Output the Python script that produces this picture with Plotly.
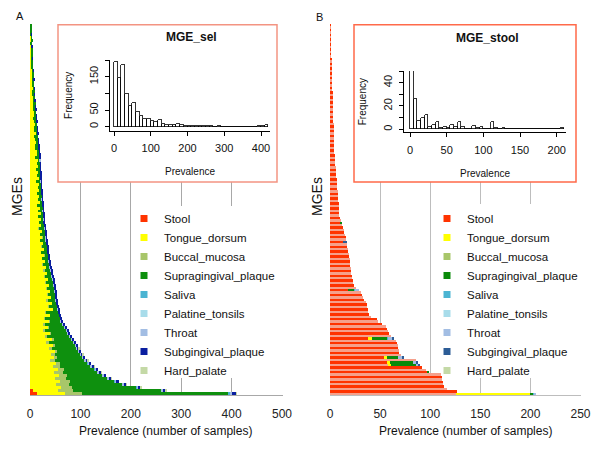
import plotly.graph_objects as go

FONT = "Liberation Sans, Arial, sans-serif"
W, H = 600, 450
PAGE_OFF = 8  # the page body margin shifts the figure by 8 px

# ---------------- data ----------------
sites = ["Stool", "Tongue_dorsum", "Buccal_mucosa", "Supragingival_plaque", "Saliva",
         "Palatine_tonsils", "Throat", "Subgingival_plaque", "Hard_palate"]

# Panel A: MGE_sel, one row per (group of) MGE, row 0 = top (lowest prevalence)
a_tongue = [1, 0, 1, 1, 2, 2, 1, 2, 3, 2, 2, 3, 3, 3, 3, 4, 3, 3, 5, 4, 4, 6, 4, 4, 5,
            6, 5, 5, 6, 7, 9, 6, 7, 9, 8, 7, 11, 8, 9, 12, 9, 10, 14,
            14, 10, 15, 13, 16, 11, 16, 14, 17, 12, 17, 15, 18, 13, 18, 15, 19, 14, 20, 16, 21, 15, 22, 18,
            22, 17, 24, 20, 25, 19, 26, 22, 27, 21, 28, 24,
            30, 25, 31, 27, 34, 28, 36, 30,
            38, 32, 40, 35, 42, 33, 44, 36, 45,
            30, 40, 28, 38, 27,
            36, 26, 40, 30,
            44, 32, 46,
            38, 50, 42,
            48, 40, 52, 45, 55, 48, 58, 50, 60, 52, 62, 50, 55]
a_supra = [1, 2, 2, 1, 1, 2, 3, 1, 2, 3, 3, 1, 3, 3, 3, 2, 4, 4, 2, 4, 4, 2, 5, 4, 5,
           3, 6, 5, 5, 5, 3, 6, 6, 5, 6, 7, 4, 8, 7, 4, 8, 7, 4,
           5, 9, 4, 7, 4, 9, 5, 6, 4, 9, 5, 7, 5, 9, 6, 8, 6, 10, 6, 9, 6, 11, 5, 9,
           6, 11, 6, 11, 5, 12, 6, 11, 7, 13, 7, 12,
           7, 12, 8, 12, 8, 14, 9, 14,
           9, 14, 9, 14, 8, 16, 8, 16, 10,
           24, 18, 30, 22, 35,
           31, 43, 33, 44,
           35, 49, 40,
           48, 43, 50,
           50, 59, 55, 62, 61, 68, 69, 81, 88, 105, 128, 174, 290]
a_subg = [0, 0, 0, 1, 0, 0, 0, 1, 0, 0, 0, 1, 0, 0, 0, 1, 0, 0, 1, 0, 0, 1, 0, 1, 0,
          1, 0, 1, 1, 0, 1, 1, 1, 0, 1, 1, 1, 0, 1, 1, 1, 1, 1,
          1, 1, 0, 1, 1, 1, 1, 1, 1, 1, 1, 1, 1, 1, 1, 1, 1, 1, 1, 1, 1, 1, 1, 2,
          1, 1, 1, 2, 1, 2, 2, 1, 2, 2, 1, 2,
          2, 2, 2, 2, 2, 2, 2, 2,
          2, 2, 2, 2, 3, 2, 3, 3, 2,
          3, 3, 3, 3, 3,
          3, 3, 3, 3,
          3, 3, 3,
          3, 3, 3,
          3, 4, 4, 4, 4, 4, 4, 5, 5, 5, 5, 5, 9]
a_throat = [0] * 43 + [
          0, 0, 1, 0, 0, 0, 0, 1, 0, 1, 0, 0, 0, 1, 0, 1, 0, 1, 0, 1, 0, 1, 1, 0,
          1, 1, 1, 0, 1, 1, 1, 1, 0, 1, 1, 1,
          1, 1, 1, 1, 1, 1, 1, 1,
          1, 0, 1, 1, 1, 2, 1, 1, 2,
          1, 1, 1, 2, 2,
          2, 2, 2, 2,
          2, 2, 2,
          2, 2, 2,
          2, 2, 2, 2, 2, 3, 2, 3, 2, 3, 2, 4, 4]
a_buccal = [0] * 67 + [
          0, 1, 0, 0, 1, 0, 0, 1, 0, 0, 1, 0,
          0, 1, 0, 2, 0, 1, 0, 2,
          0, 2, 0, 1, 0, 2, 0, 2, 0,
          2, 0, 2, 1, 3,
          2, 3, 2, 4,
          3, 5, 4,
          6, 4, 8,
          6, 10, 8, 14, 12, 18, 16, 22, 20, 26, 22, 30, 35]
a_saliva = [0] * 111 + [1, 0, 1, 0, 1, 0, 1, 0, 1, 0, 1, 0, 2]
a_palatine = [0] * 88 + [1] + [0] * 35
a_hard = [0] * 108 + [1, 0, 1, 0, 1, 0, 1, 0, 1, 0, 1, 0, 1, 1, 1, 1]
a_stool = [0] * 122 + [6, 14]

# Panel B: MGE_stool, row 0 = top (lowest prevalence)
b_stool = ([1] * 14 + [2] * 14 + [3] * 13 + [4] * 13 +
           [5] * 5 + [6] * 5 + [7] * 5 + [8] * 5 + [9] * 6 +
           [10, 11, 10, 12, 13, 14, 14] +
           [15, 16, 16, 13, 17, 17, 18, 18, 19, 19] +
           [20, 20, 20, 20, 21, 21, 21, 22, 22, 23, 23, 24] +
           [26, 18] + [31, 32, 33, 34] + [36, 37, 37, 38, 38, 39] + [41] + [47, 48] + [52] +
           [56, 57, 58, 59] + [61, 38] + [66, 67, 68, 68, 69, 69] + [71, 54] +
           [86, 57, 58] + [92] + [96, 97] + [111, 112, 112, 113, 113, 114] + [117] + [127] + [126])
b_tongue_pts = {130: 4, 138: 3, 140: 3, 141: 3, 153: 74}
b_buccal_pts = {}
b_supra_pts = {82: 2, 110: 6, 130: 15, 138: 11, 140: 23, 141: 25, 144: 1, 153: 3}
b_saliva_pts = {110: 1, 130: 1, 153: 1}
b_palatine_pts = {}
b_throat_pts = {110: 4, 130: 4, 138: 4, 140: 3, 141: 2, 153: 1}
b_subg_pts = {90: 4, 130: 1, 138: 2, 140: 2, 141: 1}
b_hard_pts = {}

# Inset histograms
hist_a_edges = list(range(0, 430, 10))
hist_a_counts = [195, 145, 185, 97, 62, 70, 43, 33, 23, 23, 18, 15, 20, 8, 6, 4, 4, 7, 4, 2,
                 2, 1, 1, 1, 2, 1, 1, 0, 1, 0, 0, 0, 0, 0, 0, 0, 0, 0, 0, 1, 1, 4]
hist_b_edges = list(range(0, 215, 5))
hist_b_counts = [54, 26, 7, 10, 12, 2, 4, 6, 1, 2, 1, 4, 2, 6, 2, 0, 0, 3, 1, 2,
                 0, 0, 6, 1, 0, 1, 0, 0, 0, 0, 0, 0, 0, 0, 0, 0, 0, 0, 0, 0, 0, 1]

ticks_a = [0, 100, 200, 300, 400, 500]
ticks_b = [0, 50, 100, 150, 200, 250]

# ---------------- styling ----------------
colors_a = ["#FF3300", "#FFFF00", "#A8C66A", "#0E900E", "#4BB4D2", "#A8DCEA", "#A2BDE3", "#0A1EA0", "#C4D9A6"]
colors_b = ["#FF3300", "#FFFF00", "#A8C66A", "#0A8A0A", "#4BB4D2", "#A8DCEA", "#A2BDE3", "#2C5C96", "#C4D9A6"]
STOOL_LIGHT = "#F5A08C"


def fx(p):
    return (p - PAGE_OFF) / W


def fy(p):
    return 1 - (p - PAGE_OFF) / H


def dense(pts, n):
    return [pts.get(i, 0) for i in range(n)]


nA = len(a_tongue)
nB = len(b_stool)
rows_a = list(range(nA))
rows_b = list(range(nB))

a_series = [a_stool, a_tongue, a_buccal, a_supra, a_saliva, a_palatine, a_throat, a_subg, a_hard]
b_series = [b_stool] + [dense(p, nB) for p in (b_tongue_pts, b_buccal_pts, b_supra_pts, b_saliva_pts,
                                                b_palatine_pts, b_throat_pts, b_subg_pts, b_hard_pts)]

fig = go.Figure()

for name, vals, col in zip(sites, a_series, colors_a):
    fig.add_trace(go.Bar(y=rows_a, x=vals, orientation="h", name=name, marker=dict(color=col, line=dict(width=0)),
                         xaxis="x", yaxis="y", showlegend=False))
for k, (name, vals, col) in enumerate(zip(sites, b_series, colors_b)):
    c = [col if (i % 2 == 0) else STOOL_LIGHT for i in rows_b] if k == 0 else col
    fig.add_trace(go.Bar(y=rows_b, x=vals, orientation="h", name=name, marker=dict(color=c, line=dict(width=0)),
                         xaxis="x2", yaxis="y2", showlegend=False))

# legend entries
for name, col in zip(sites, colors_a):
    fig.add_trace(go.Scatter(x=[None], y=[None], mode="markers", name=name, legend="legend",
                             marker=dict(symbol="square", size=7, color=col), xaxis="x", yaxis="y"))
for name, col in zip(sites, colors_b):
    fig.add_trace(go.Scatter(x=[None], y=[None], mode="markers", name=name, legend="legend2",
                             marker=dict(symbol="square", size=7, color=col), xaxis="x2", yaxis="y2"))

# inset histograms
fig.add_trace(go.Bar(x=[e + 5 for e in hist_a_edges[:-1]], y=hist_a_counts, width=10,
                     marker=dict(color="white", line=dict(color="black", width=0.8)),
                     xaxis="x3", yaxis="y3", showlegend=False))
fig.add_trace(go.Bar(x=[e + 2.5 for e in hist_b_edges[:-1]], y=hist_b_counts, width=5,
                     marker=dict(color="white", line=dict(color="black", width=0.8)),
                     xaxis="x4", yaxis="y4", showlegend=False))

# pixel geometry (screen pixels)
TOP, BOT = 24, 395
A0, AS = 30, 0.504
B0, BS = 330, 1.002
rowA = (BOT - TOP) / nA
rowB = (BOT - TOP) / nB


def ax_a(p): return (p - A0) / AS
def ay_a(p): return -0.5 + (p - TOP) / rowA
def ax_b(p): return (p - B0) / BS
def ay_b(p): return -0.5 + (p - TOP) / rowB


main_x = dict(showgrid=True, gridcolor="#A8A8A8", gridwidth=1, zeroline=True, zerolinecolor="white",
              showline=True, linecolor="#A8A8A8", linewidth=1, ticks="", ticklabelstandoff=8,
              tickfont=dict(family=FONT, size=12, color="#222"), fixedrange=True)

inset_axis = dict(showgrid=False, zeroline=False, showline=True, linecolor="black", linewidth=1,
                  ticks="outside", ticklen=4, tickwidth=1, tickcolor="black",
                  tickfont=dict(family=FONT, size=11, color="#111"))


def ann(text, x, y, size, angle=0):
    return dict(text=text, x=fx(x), y=fy(y), xref="paper", yref="paper", showarrow=False,
                xanchor="center", yanchor="middle", textangle=angle,
                font=dict(family=FONT, size=size, color="#111"))


fig.update_layout(
    width=W, height=H, template="none",
    margin=dict(l=0, r=0, t=0, b=0),
    paper_bgcolor="white", plot_bgcolor="rgba(0,0,0,0)",
    barmode="stack", bargap=0,
    font=dict(family=FONT, size=12, color="#111"),
    xaxis=dict(main_x, domain=[fx(A0), fx(A0 + 501 * AS)], range=[0, 501], tickvals=ticks_a, anchor="y"),
    yaxis=dict(domain=[fy(BOT), fy(TOP)], range=[nA - 0.5, -0.5], visible=False, anchor="x"),
    xaxis2=dict(main_x, domain=[fx(B0), fx(B0 + 250.5 * BS)], range=[0, 250.5], tickvals=ticks_b, anchor="y2",
                gridcolor="#BDBDBD", linecolor="#BDBDBD"),
    yaxis2=dict(domain=[fy(BOT), fy(TOP)], range=[nB - 0.5, -0.5], visible=False, anchor="x2"),
    xaxis3=dict(inset_axis, domain=[fx(110), fx(270)], range=[-10.9, 424.5], tickvals=[0, 100, 200, 300, 400],
                anchor="y3", ticklabelstandoff=3,
                title=dict(text="Prevalence", font=dict(family=FONT, size=10, color="#111"), standoff=15)),
    yaxis3=dict(inset_axis, domain=[fy(130.7), fy(60)], range=[-12, 200], tickvals=[0, 50, 100, 150, 200],
                ticktext=["0", "50", "", "150", ""], tickangle=-90, anchor="x3", ticklabelstandoff=3,
                title=dict(text="Frequency", font=dict(family=FONT, size=10, color="#111"), standoff=13)),
    xaxis4=dict(inset_axis, domain=[fx(404), fx(566)], range=[-8.2, 212.7], tickvals=[0, 50, 100, 150, 200],
                anchor="y4", ticklabelstandoff=3,
                title=dict(text="Prevalence", font=dict(family=FONT, size=10, color="#111"), standoff=15)),
    yaxis4=dict(inset_axis, domain=[fy(132.3), fy(71)], range=[-2.57, 50], tickvals=[0, 10, 20, 30, 40, 50],
                ticktext=["0", "", "20", "", "40", ""], tickangle=-90, anchor="x4", ticklabelstandoff=3,
                title=dict(text="Frequency", font=dict(family=FONT, size=10, color="#111"), standoff=13)),
    legend=dict(x=fx(124), y=fy(204), xanchor="left", yanchor="top", bgcolor="rgba(0,0,0,0)",
                traceorder="normal", font=dict(family=FONT, size=11.5, color="#111"),
                itemwidth=30, tracegroupgap=0),
    legend2=dict(x=fx(427), y=fy(204), xanchor="left", yanchor="top", bgcolor="rgba(0,0,0,0)",
                 traceorder="normal", font=dict(family=FONT, size=11.5, color="#111"),
                 itemwidth=30, tracegroupgap=0),
    shapes=[
        # inset frames (cover the grid, below traces)
        dict(type="rect", xref="x", yref="y", layer="between",
             x0=ax_a(58), x1=ax_a(277), y0=ay_a(24.8), y1=ay_a(182),
             fillcolor="white", line=dict(color="#F39482", width=1.5)),
        dict(type="rect", xref="x2", yref="y2", layer="between",
             x0=ax_b(354), x1=ax_b(576), y0=ay_b(24.8), y1=ay_b(182),
             fillcolor="white", line=dict(color="#FF6A4A", width=1.5)),
        # legend backgrounds hiding grid lines
        dict(type="rect", xref="x", yref="y", layer="between",
             x0=ax_a(150), x1=ax_a(279), y0=ay_a(206), y1=ay_a(378),
             fillcolor="white", line=dict(width=0)),
        dict(type="rect", xref="x2", yref="y2", layer="between",
             x0=ax_b(442), x1=ax_b(578), y0=ay_b(204), y1=ay_b(378),
             fillcolor="white", line=dict(width=0)),
    ],
    annotations=[
        ann("A", 20, 16, 11),
        ann("B", 319, 17, 11),
        ann("MGEs", 17, 197, 14, -90),
        ann("MGEs", 317, 197, 14, -90),
        ann("Prevalence (number of samples)", 165, 431, 12),
        ann("Prevalence (number of samples)", 465, 431, 12),
        ann("<b>MGE_sel</b>", 191.5, 37, 12),
        ann("<b>MGE_stool</b>", 487, 38, 12),
    ],
)

fig.write_html("out.html")
